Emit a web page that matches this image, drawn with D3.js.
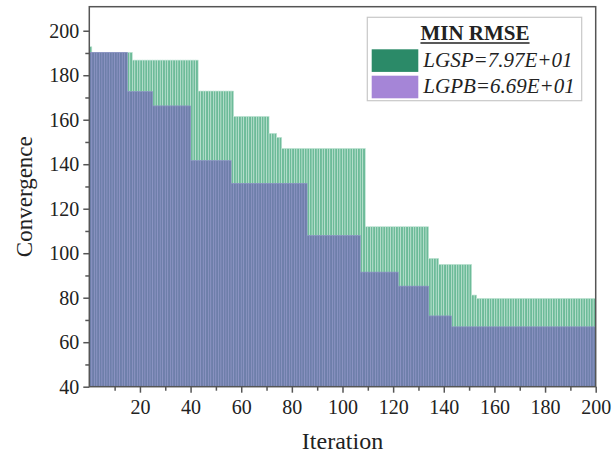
<!DOCTYPE html>
<html>
<head>
<meta charset="utf-8">
<script src="https://cdn.jsdelivr.net/npm/d3@7"></script>
<style>
  html, body { margin: 0; padding: 0; background: #fff; }
  svg { display: block; }
</style>
</head>
<body>
<svg id="chart" width="613" height="455"></svg>
<script>
// ---- data ----
const iterations = d3.range(1, 201);
const lgsp = [
  192.8,
  190.3,190.3,190.3,190.3,190.3,190.3,190.3,190.3,190.3,190.3,190.3,190.3,190.3,190.3,190.3,190.3,
  186.8,186.8,186.8,186.8,186.8,186.8,186.8,186.8,186.8,186.8,186.8,186.8,186.8,
  186.8,186.8,186.8,186.8,186.8,186.8,186.8,186.8,186.8,186.8,186.8,186.8,186.8,
  172.9,172.9,172.9,172.9,172.9,172.9,172.9,172.9,172.9,172.9,172.9,172.9,172.9,172.9,
  161.5,161.5,161.5,161.5,161.5,161.5,161.5,161.5,161.5,161.5,161.5,161.5,161.5,161.5,
  153.9,153.9,153.9,
  152.1,152.1,
  147.1,147.1,147.1,147.1,147.1,147.1,147.1,147.1,147.1,147.1,147.1,
  147.1,147.1,147.1,147.1,147.1,147.1,147.1,147.1,147.1,147.1,147.1,
  147.1,147.1,147.1,147.1,147.1,147.1,147.1,147.1,147.1,147.1,147.1,
  111.9,111.9,111.9,111.9,111.9,111.9,111.9,111.9,111.9,111.9,111.9,111.9,111.9,
  111.9,111.9,111.9,111.9,111.9,111.9,111.9,111.9,111.9,111.9,111.9,111.9,
  97.7,97.7,97.7,97.7,
  95.0,95.0,95.0,95.0,95.0,95.0,95.0,95.0,95.0,95.0,95.0,95.0,95.0,
  81.2,81.2,
  79.7,79.7,79.7,79.7,79.7,79.7,79.7,79.7,79.7,79.7,79.7,79.7,79.7,79.7,79.7,79.7,
  79.7,79.7,79.7,79.7,79.7,79.7,79.7,79.7,79.7,79.7,79.7,79.7,79.7,79.7,79.7,79.7,
  79.7,79.7,79.7,79.7,79.7,79.7,79.7,79.7,79.7,79.7,79.7,79.7,79.7,79.7,79.7
];
const lgpb = [
  190.3,190.3,190.3,190.3,190.3,190.3,190.3,190.3,190.3,190.3,190.3,190.3,190.3,190.3,190.3,
  172.6,172.6,172.6,172.6,172.6,172.6,172.6,172.6,172.6,172.6,
  166.2,166.2,166.2,166.2,166.2,166.2,166.2,166.2,166.2,166.2,166.2,166.2,166.2,166.2,166.2,
  141.6,141.6,141.6,141.6,141.6,141.6,141.6,141.6,141.6,141.6,141.6,141.6,141.6,141.6,141.6,141.6,
  131.4,131.4,131.4,131.4,131.4,131.4,131.4,131.4,131.4,131.4,
  131.4,131.4,131.4,131.4,131.4,131.4,131.4,131.4,131.4,131.4,
  131.4,131.4,131.4,131.4,131.4,131.4,131.4,131.4,131.4,131.4,
  107.9,107.9,107.9,107.9,107.9,107.9,107.9,107.9,107.9,107.9,107.9,
  107.9,107.9,107.9,107.9,107.9,107.9,107.9,107.9,107.9,107.9,
  91.5,91.5,91.5,91.5,91.5,91.5,91.5,91.5,91.5,91.5,91.5,91.5,91.5,91.5,91.5,
  85.2,85.2,85.2,85.2,85.2,85.2,85.2,85.2,85.2,85.2,85.2,85.2,
  71.8,71.8,71.8,71.8,71.8,71.8,71.8,71.8,71.8,
  66.9,66.9,66.9,66.9,66.9,66.9,66.9,66.9,66.9,66.9,66.9,66.9,66.9,66.9,66.9,66.9,66.9,66.9,66.9,
  66.9,66.9,66.9,66.9,66.9,66.9,66.9,66.9,66.9,66.9,66.9,66.9,66.9,66.9,66.9,66.9,66.9,66.9,66.9,
  66.9,66.9,66.9,66.9,66.9,66.9,66.9,66.9,66.9,66.9,66.9,66.9,66.9,66.9,66.9,66.9,66.9,66.9,66.9
];
const seriesNames = ["LGSP=7.97E+01", "LGPB=6.69E+01"];
const legendTitle = "MIN RMSE";
const xTicks = [20, 40, 60, 80, 100, 120, 140, 160, 180, 200];
const xMinorTicks = [10, 30, 50, 70, 90, 110, 130, 150, 170, 190];
const yTicks = [40, 60, 80, 100, 120, 140, 160, 180, 200];
const yMinorTicks = [50, 70, 90, 110, 130, 150, 170, 190];
const xTitle = "Iteration";
const yTitle = "Convergence";

// ---- layout ----
const svg = d3.select("#chart");
const L = 89.3, R = 595.7, T = 6.7, B = 386.7;
const x = d3.scaleLinear().domain([0, 200]).range([L, R]);
const y = d3.scaleLinear().domain([40, 210.8]).range([B, T]);
const font = "'Liberation Serif', 'Times New Roman', Times, serif";
const axisColor = "#555";
const textColor = "#222";

const g = svg.append("g");

// green bars (LGSP)
g.selectAll("rect.gs").data(iterations).join("rect")
  .attr("class", "gs")
  .attr("x", d => x(d - 1))
  .attr("width", d => x(d) - x(d - 1))
  .attr("y", (d, i) => y(lgsp[i]))
  .attr("height", (d, i) => B - y(lgsp[i]))
  .attr("fill", "#6dbb99")
  .attr("stroke", "#c6e7d8")
  .attr("stroke-width", 0.6);

// purple/blue bars (LGPB)
g.selectAll("rect.pb").data(iterations).join("rect")
  .attr("class", "pb")
  .attr("x", d => x(d - 1))
  .attr("width", d => x(d) - x(d - 1))
  .attr("y", (d, i) => y(lgpb[i]))
  .attr("height", (d, i) => B - y(lgpb[i]))
  .attr("fill", "#6e7faa")
  .attr("stroke", "#9195c8")
  .attr("stroke-width", 0.6);

// frame
svg.append("rect")
  .attr("x", L).attr("y", T).attr("width", R - L).attr("height", B - T)
  .attr("fill", "none").attr("stroke", axisColor).attr("stroke-width", 1.5);

// axes
const xAxis = svg.append("g").attr("transform", `translate(0,${B})`)
  .call(d3.axisBottom(x).tickValues(xTicks).tickSize(6).tickSizeOuter(0).tickPadding(7));
const xMinor = svg.append("g").attr("transform", `translate(0,${B})`)
  .call(d3.axisBottom(x).tickValues(xMinorTicks).tickSize(4).tickSizeOuter(0).tickFormat(""));
const yAxis = svg.append("g").attr("transform", `translate(${L},0)`)
  .call(d3.axisLeft(y).tickValues(yTicks).tickSize(6).tickSizeOuter(0).tickPadding(4));
const yMinor = svg.append("g").attr("transform", `translate(${L},0)`)
  .call(d3.axisLeft(y).tickValues(yMinorTicks).tickSize(4).tickSizeOuter(0).tickFormat(""));

[xAxis, xMinor, yAxis, yMinor].forEach(a => {
  a.select(".domain").remove();
  a.selectAll("line").attr("stroke", axisColor).attr("stroke-width", 1.5);
  a.selectAll("text").attr("font-family", font).attr("font-size", 20).attr("fill", textColor);
});

// axis titles
svg.append("text")
  .attr("x", (L + R) / 2).attr("y", 449)
  .attr("text-anchor", "middle")
  .attr("font-family", font).attr("font-size", 24).attr("fill", textColor)
  .text(xTitle);
svg.append("text")
  .attr("transform", `translate(32,${(T + B) / 2}) rotate(-90)`)
  .attr("text-anchor", "middle")
  .attr("font-family", font).attr("font-size", 23).attr("fill", textColor)
  .text(yTitle);

// legend
const lg = svg.append("g");
lg.append("rect")
  .attr("x", 367.3).attr("y", 17.3).attr("width", 214.4).attr("height", 83.4)
  .attr("fill", "#fff").attr("stroke", "#c8c8c8").attr("stroke-width", 1.2);
const tt = lg.append("text")
  .attr("x", 475).attr("y", 40)
  .attr("text-anchor", "middle")
  .attr("font-family", font).attr("font-size", 21).attr("font-weight", "bold").attr("fill", textColor)
  .text(legendTitle);
const bb = tt.node().getBBox();
lg.append("line")
  .attr("x1", bb.x).attr("x2", bb.x + bb.width)
  .attr("y1", 43).attr("y2", 43)
  .attr("stroke", textColor).attr("stroke-width", 1.5);
const swatchColors = ["#2b8a68", "#a585d7"];
const rowY = [49.3, 75.7];
seriesNames.forEach((name, i) => {
  lg.append("rect")
    .attr("x", 371.7).attr("y", rowY[i]).attr("width", 46.6).attr("height", 22.6)
    .attr("fill", swatchColors[i]);
  lg.append("text")
    .attr("x", 423.3).attr("y", rowY[i] + 17.5)
    .attr("font-family", font).attr("font-size", 21).attr("font-style", "italic").attr("fill", textColor)
    .text(name);
});
</script>
</body>
</html>
